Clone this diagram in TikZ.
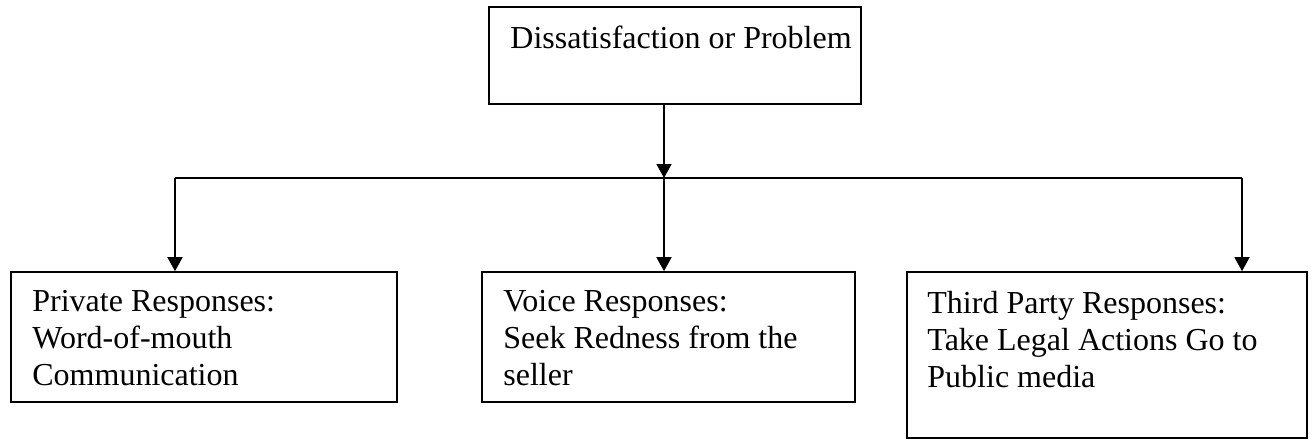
\documentclass[tikz,border=0pt]{standalone}
\usepackage{fontspec}
\setmainfont{Liberation Serif}
\usetikzlibrary{arrows.meta}
\begin{document}
\begin{tikzpicture}[x=0.5pt,y=-0.5pt,
  boxnode/.style={draw=black,line width=0.8pt,inner sep=0pt,rectangle},
  txt/.style={anchor=north west,inner sep=0pt,align=left,font=\fontsize{16}{18.4}\selectfont},
  conn/.style={line width=0.7pt},
  arr/.style={line width=0.7pt,-{Triangle[width=7.5pt,length=7pt]}}]
\useasboundingbox (0,0) rectangle (1315,440);
\node[boxnode,minimum width=186pt,minimum height=48.5pt] (top) at (675,55.5) {};
\node[boxnode,minimum width=193pt,minimum height=65pt] (left) at (204,337) {};
\node[boxnode,minimum width=186.5pt,minimum height=65pt] (mid) at (668.5,337) {};
\node[boxnode,minimum width=200pt,minimum height=83pt] (right) at (1107,355) {};
\node[txt] (ttop) at (510,26) {Dissatisfaction or Problem};
\node[txt] (tleft) at (32,290) {Private Responses:\\Word-of-mouth\\Communication};
\node[txt] (tmid) at (503,290) {Voice Responses:\\Seek Redness from the\\seller};
\node[txt] (tright) at (927,291) {Third Party Responses:\\Take Legal Actions Go to\\Public media};
\coordinate (jl) at (175,178);
\coordinate (jm) at (664,178);
\coordinate (jr) at (1242,178);
\draw[conn] (jl) -- (jr);
\draw[arr] (top.south -| jm) -- (jm);
\draw[arr] (jl) -- (jl |- left.north);
\draw[arr] (jm) -- (jm |- mid.north);
\draw[arr] (jr) -- (jr |- right.north);
\end{tikzpicture}
\end{document}
